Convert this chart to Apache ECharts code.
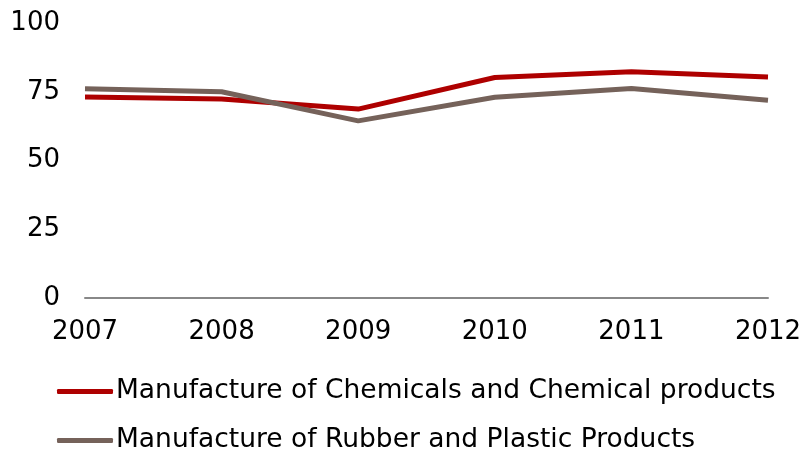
<!DOCTYPE html>
<html><head><meta charset="utf-8">
<script src="https://cdn.jsdelivr.net/npm/echarts@6/dist/echarts.min.js"></script>
<style>html,body{margin:0;padding:0;background:#fff}#c{width:805px;height:449px}</style>
</head><body><div id="c"></div>
<script>
const years = ['2007','2008','2009','2010','2011','2012'];
const chemicals = [73.1, 72.4, 68.7, 80.2, 82.3, 80.4];
const rubber = [76.1, 75.0, 64.4, 73.0, 76.2, 71.9];
const yTicks = [0, 25, 50, 75, 100];
const font = 'DejaVu Sans';
const chart = echarts.init(document.getElementById('c'));
chart.setOption({
  animation: false,
  grid: {left: 85, right: 37, top: 23, bottom: 151},
  xAxis: {
    type: 'category', data: years, boundaryGap: false,
    axisLine: {lineStyle: {color: '#888', width: 2}},
    axisTick: {show: false},
    axisLabel: {color: '#000', fontSize: 26, fontFamily: font, margin: 21}
  },
  yAxis: {
    type: 'value', min: yTicks[0], max: yTicks[yTicks.length-1], interval: 25,
    splitLine: {show: false}, axisLine: {show: false}, axisTick: {show: false},
    axisLabel: {color: '#000', fontSize: 26, fontFamily: font, margin: 25, padding: [3,0,0,0]}
  },
  legend: {
    orient: 'vertical', left: 52, top: 373, height: 80, itemGap: 22,
    itemWidth: 56, itemHeight: 5, icon: 'roundRect',
    textStyle: {fontSize: 26.5, fontFamily: font, color: '#000', padding: [0,0,0,-2]}
  },
  series: [
    {name: 'Manufacture of Chemicals and Chemical products', type: 'line', data: chemicals,
     symbol: 'none', lineStyle: {width: 5, color: '#AE0000'}, itemStyle: {color: '#AE0000'}},
    {name: 'Manufacture of Rubber and Plastic Products', type: 'line', data: rubber,
     symbol: 'none', lineStyle: {width: 5, color: '#75625A'}, itemStyle: {color: '#75625A'}}
  ]
});
</script></body></html>
